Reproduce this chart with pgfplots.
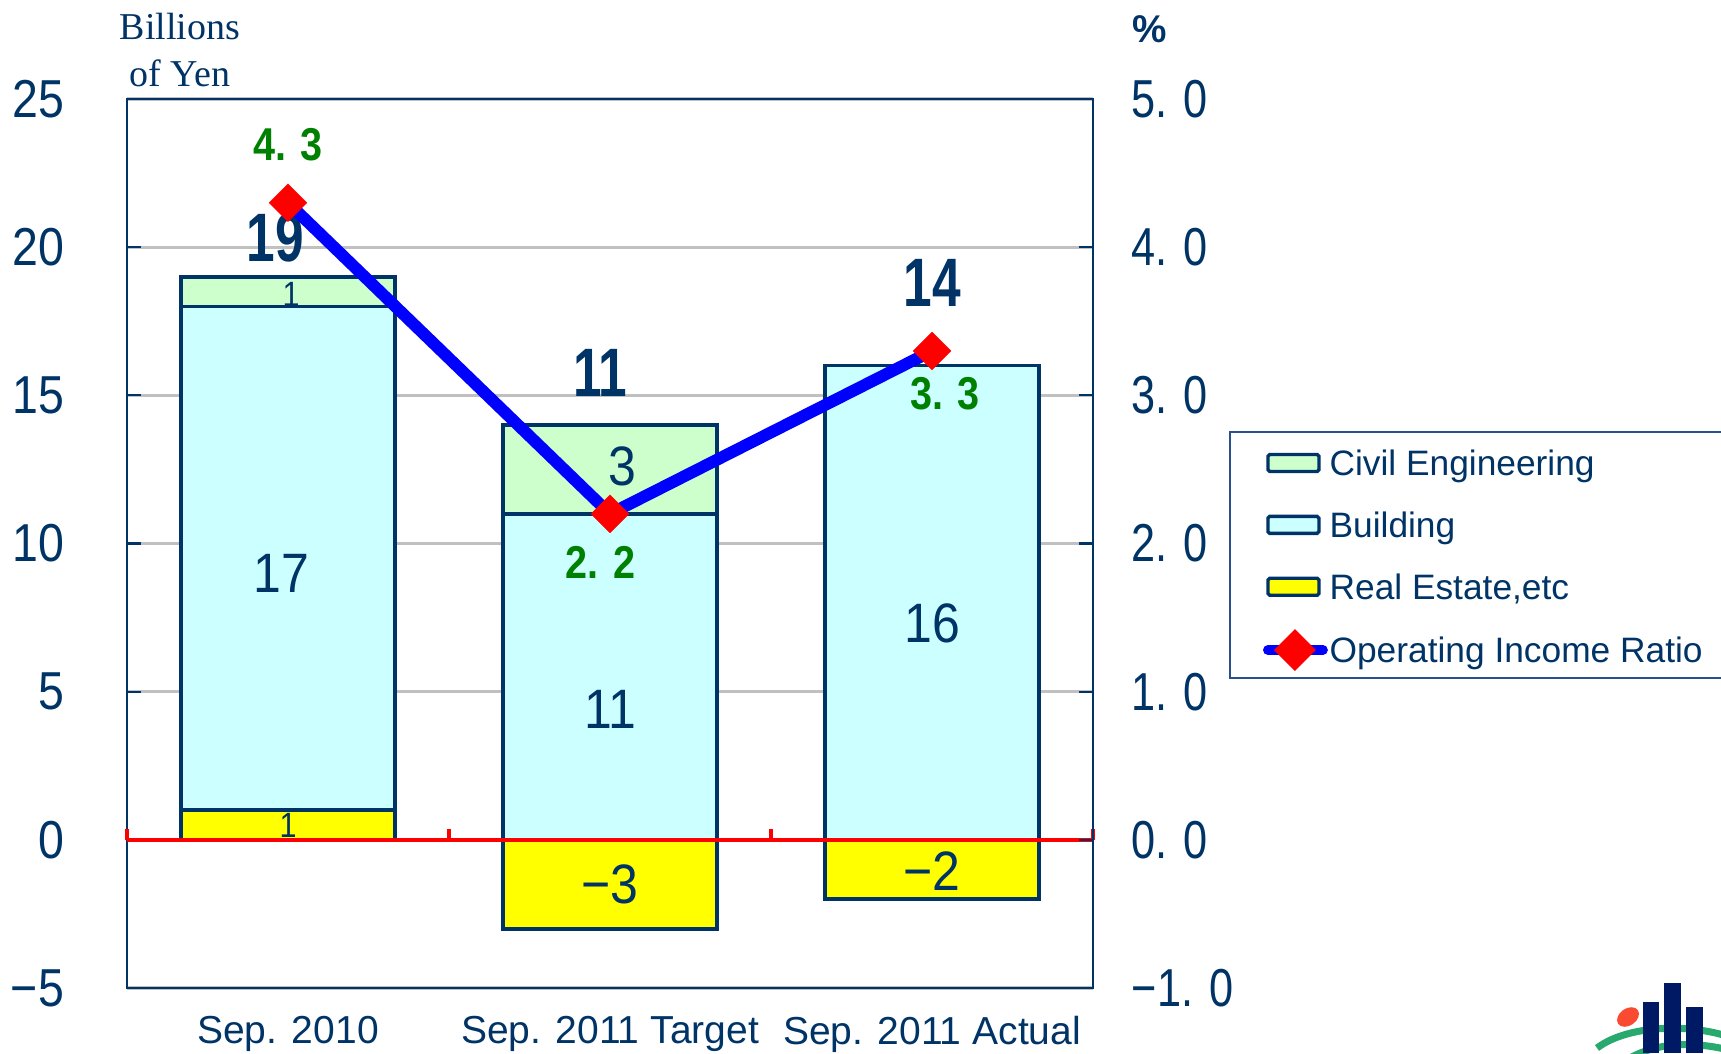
\documentclass[border=0pt]{standalone}
\usepackage{fontspec}
\usepackage{pgfplots}
\pgfplotsset{compat=1.18}
\setmainfont{Liberation Sans}
\newfontfamily\tickfont[FakeStretch=0.87]{Liberation Sans}
\newfontfamily\rtickfont[FakeStretch=0.81]{Liberation Sans}
\newfontfamily\barfont[FakeStretch=0.9]{Liberation Sans}
\newfontfamily\totfont[FakeStretch=0.75]{Liberation Sans}
\newfontfamily\grfont[FakeStretch=0.86]{Liberation Sans}
\newfontfamily\seriffont{Liberation Serif}
\definecolor{navy}{RGB}{0,51,102}
\definecolor{civil}{RGB}{204,255,204}
\definecolor{bldg}{RGB}{204,255,255}
\definecolor{realest}{RGB}{255,255,0}
\definecolor{grn}{RGB}{0,128,0}
\definecolor{gridgray}{RGB}{192,192,192}
\definecolor{legframe}{RGB}{40,80,140}
\definecolor{logogreen}{RGB}{40,170,110}
\definecolor{logored}{RGB}{250,75,50}
\definecolor{logonavy}{RGB}{0,25,100}
\pgfplotsset{
  common/.style={
    at={(1.27cm,0.65cm)}, anchor=south west,
    scale only axis, width=9.66cm, height=8.89cm,
    xmin=-0.5, xmax=2.5,
  },
  barstyle/.style={draw=navy, line width=1pt},
  lbl/.style={draw=none, nodes near coords, point meta=explicit symbolic,
    every node near coord/.append style={anchor=center, inner sep=0pt, text=navy, #1}},
}
\begin{document}
\begin{tikzpicture}
\useasboundingbox (0,0) rectangle (17.21cm,10.53cm);
% bars (stacked)
\begin{axis}[common, ymin=-5, ymax=25,
  ybar stacked, bar width=0.665,
  xtick={0,1,2},
  xticklabels={Sep. 2010,Sep. 2011 Target,Sep. 2011 Actual},
  xtick style={draw=none},
  ytick={-5,0,5,10,15,20,25},
  yticklabels={−5,0,5,10,15,20,25},
  ytick pos=left,
  tick align=inside,
  major tick length=1.4mm,
  ytick style={draw=navy, line width=0.6pt},
  ymajorgrids,
  major grid style={draw=gridgray, line width=0.9pt},
  axis line style={draw=navy, line width=0.6pt},
  yticklabel style={font=\tickfont\fontsize{15.2}{15.2}\selectfont, text=navy, xshift=-14.4pt},
  xticklabel style={font=\fontsize{11.1}{11.1}\selectfont, text=navy, yshift=-4.5pt},
]
\addplot[barstyle, fill=realest] coordinates {(0,1) (1,0) (2,0)};
\addplot[barstyle, fill=bldg] coordinates {(0,17) (1,11) (2,16)};
\addplot[barstyle, fill=civil] coordinates {(0,1) (1,3) (2,0)};
\end{axis}
% negative real estate, zero line, labels
\begin{axis}[common, ymin=-5, ymax=25, hide axis, clip=false]
\addplot[ybar, bar width=0.665, bar shift=0pt, barstyle, fill=realest] coordinates {(1,-3) (2,-2)};
\addplot[red, line width=1.3pt] coordinates {(-0.5,0) (2.5,0)};
\addplot[red, line width=1pt, unbounded coords=jump] coordinates {(-0.5,0) (-0.5,0.38) (0,nan) (0.5,0) (0.5,0.38) (1,nan) (1.5,0) (1.5,0.38) (2,nan) (2.5,0) (2.5,0.38)};
\addplot[lbl={font=\barfont\fontsize{15.8}{15.8}\selectfont}] coordinates {(-0.02,9)[17] (1,4.4)[11] (2,7.3)[16] (1.04,12.6)[3] (1,-1.5)[−3] (2,-1.05)[−2]};
\addplot[lbl={font=\tickfont\fontsize{10}{10}\selectfont}] coordinates {(0,0.5)[1] (0.01,18.42)[1]};
\addplot[lbl={font=\totfont\bfseries\fontsize{19.5}{19.5}\selectfont}] coordinates {(-0.04,20.3)[19] (0.97,15.75)[11] (2.0,18.8)[14]};
\end{axis}
% ratio on right axis
\begin{axis}[common, ymin=-1, ymax=5, clip=false,
  axis x line=none, axis y line*=right,
  ytick={-1,0,1,2,3,4,5},
  yticklabels={−1. 0,0. 0,1. 0,2. 0,3. 0,4. 0,5. 0},
  tick align=inside, major tick length=1.4mm,
  ytick style={draw=navy, line width=0.6pt},
  axis line style={draw=navy, line width=0.6pt},
  yticklabel style={font=\rtickfont\fontsize{15.2}{15.2}\selectfont, text=navy, xshift=7.5pt},
  legend style={draw=none, fill=none, at={(1.1760,0.6097)}, anchor=north west,
    inner sep=0pt, outer sep=0pt, row sep=7.9pt,
    font=\fontsize{10.05}{10.05}\selectfont, text=navy,
    nodes={inner xsep=0.5pt, inner ysep=0.5pt, text height=8pt, text depth=0.7pt}},
  legend cell align=left,
]
\draw[legframe, line width=0.7pt] (axis description cs:1.1418,0.6254) rectangle (axis description cs:1.70,0.3487);
\addlegendimage{legend image code/.code={\draw[fill=civil, draw=navy, line width=0.95pt, rounded corners=0.5pt] (0cm,-0.085cm) rectangle (0.51cm,0.085cm);}}
\addlegendentry{Civil Engineering}
\addlegendimage{legend image code/.code={\draw[fill=bldg, draw=navy, line width=0.95pt, rounded corners=0.5pt] (0cm,-0.085cm) rectangle (0.51cm,0.085cm);}}
\addlegendentry{Building}
\addlegendimage{legend image code/.code={\draw[fill=realest, draw=navy, line width=0.95pt, rounded corners=0.5pt] (0cm,-0.085cm) rectangle (0.51cm,0.085cm);}}
\addlegendentry{Real Estate,etc}
\addplot[blue, line width=3.4pt, mark=square*, mark size=3.8pt,
  mark options={rotate=45, fill=red, draw=red, line width=0.1pt},
  legend image code/.code={\draw[blue, line width=2.8pt, line cap=round] (0cm,0cm) -- (0.55cm,0cm);
    \fill[red] (0.27cm,0.125cm) -- (0.395cm,0cm) -- (0.27cm,-0.125cm) -- (0.145cm,0cm) -- cycle;}]
  coordinates {(0,4.3) (1,2.2) (2,3.3)};
\addlegendentry{Operating Income Ratio}
\addplot[lbl={font=\grfont\bfseries\fontsize{13.1}{13.1}\selectfont, text=grn}] coordinates {(0,4.69)[4. 3] (0.97,1.87)[2. 2] (2.04,3.01)[3. 3]};
\end{axis}
% titles
\node[align=center, text=navy, font=\seriffont\fontsize{10.8}{13.4}\selectfont] at (1.80cm,10.03cm) {Billions\\of Yen};
\node[text=navy, font=\bfseries\fontsize{11}{11}\selectfont] at (11.50cm,10.24cm) {\%};
% logo
\draw[logogreen, line width=2pt] (15.97,0.05) .. controls (16.3,0.3) and (17.0,0.3) .. (17.4,0.12);
\draw[logogreen, line width=2pt] (16.3,-0.05) .. controls (16.6,0.12) and (17.0,0.12) .. (17.4,0.0);
\fill[logonavy] (16.43,0) rectangle (16.59,0.51);
\fill[logonavy] (16.64,0) rectangle (16.81,0.70);
\fill[logonavy] (16.86,0) rectangle (17.03,0.46);
\fill[logored, rotate around={35:(16.28,0.36)}] (16.28,0.36) ellipse (0.12 and 0.085);
\end{tikzpicture}
\end{document}
